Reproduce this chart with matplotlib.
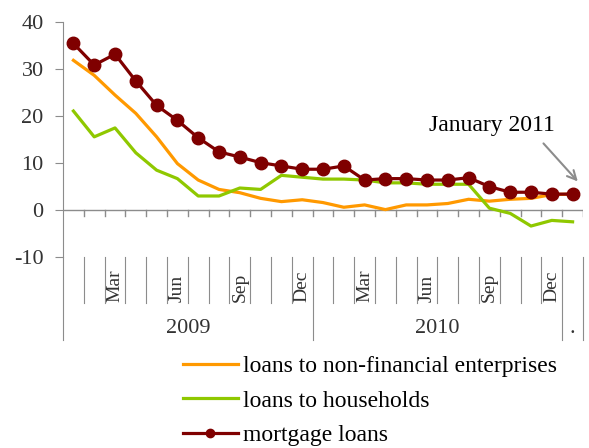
import matplotlib
matplotlib.use("Agg")
import matplotlib.pyplot as plt
from matplotlib.lines import Line2D

plt.rcParams["font.family"] = ["Liberation Serif", "DejaVu Serif"]
plt.rcParams["axes.unicode_minus"] = False

# monthly growth rates, Jan 2009 .. Jan 2011 (%)
enterprises = [31.9, 28.7, 24.5, 20.6, 15.6, 9.9, 6.4, 4.4, 3.7, 2.5, 1.8, 2.2,
               1.6, 0.6, 1.1, 0.1, 1.1, 1.1, 1.4, 2.3, 1.9, 2.3, 2.5, 3.3, 3.4]
households = [21.1, 15.6, 17.5, 12.2, 8.5, 6.7, 3.0, 3.0, 4.7, 4.4, 7.4, 7.0,
              6.6, 6.6, 6.4, 5.8, 5.8, 5.5, 5.5, 5.5, 0.4, -0.7, -3.4, -2.2, -2.5]
mortgage = [35.5, 30.9, 33.2, 27.5, 22.3, 19.1, 15.4, 12.4, 11.3, 10.1, 9.4, 8.7,
            8.7, 9.4, 6.4, 6.7, 6.7, 6.4, 6.4, 6.9, 5.0, 3.8, 3.8, 3.4, 3.4]

month_labels = {2: "Mar", 5: "Jun", 8: "Sep", 11: "Dec",
                14: "Mar", 17: "Jun", 20: "Sep", 23: "Dec"}
year_labels = [(5.5, "2009"), (17.5, "2010"), (24, ".")]
year_edges = [-0.5, 11.5, 23.5, 24.5]

ORANGE = "#FF9900"
GREEN = "#8FC800"
DARKRED = "#7F0000"
GRID = "#8C8C8C"
TXT = "#333333"

fig = plt.figure(figsize=(5.89, 4.48), dpi=100)
ax = fig.add_axes([0.107, 0.4263, 0.8828, 0.5239])

x = list(range(len(mortgage)))
ax.plot(x, enterprises, color=ORANGE, lw=2.3, solid_joinstyle="round")
ax.plot(x, households, color=GREEN, lw=2.3, solid_joinstyle="round")
ax.plot(x, mortgage, color=DARKRED, lw=2.3, marker="o", ms=9)

ax.set_xlim(-0.5, 24.5)
ax.set_ylim(-10, 40)
ax.set_yticks([-10, 0, 10, 20, 30, 40])
ax.tick_params(axis="y", direction="out", length=6, color=GRID,
               labelsize=16, labelcolor=TXT, pad=8)
ax.set_xticks([])
for side in ("top", "right", "bottom"):
    ax.spines[side].set_visible(False)
ax.spines["left"].set_color(GRID)

# zero line with month ticks hanging below it
ax.axhline(0, color=GRID, lw=1, zorder=0)
for b in range(25):
    ax.plot([b + 0.5, b + 0.5], [0, -1.3], color=GRID, lw=1, zorder=0)

# category axis drawn under the plot area
for b in range(24):
    edge = b + 0.5
    if edge in year_edges:
        continue
    ax.plot([edge, edge], [-10, -19.8], color=GRID, lw=0.8, clip_on=False)
for edge in year_edges:
    ax.plot([edge, edge], [-10, -27.7], color=GRID, lw=0.8, clip_on=False)
for pos, lab in month_labels.items():
    ax.text(pos, -19.6, lab, rotation=90, ha="center", va="bottom",
            fontsize=14, color=TXT)
for pos, lab in year_labels:
    ax.text(pos, -25.2, lab, ha="center", va="center", fontsize=16, color=TXT)

ax.text(20.1, 18.0, "January 2011", fontsize=17, color="black",
        ha="center", va="center")
ax.annotate("", xy=(24.25, 6.1), xytext=(22.6, 14.2),
            arrowprops=dict(arrowstyle="->", color="#8C8C8C", lw=1.5,
                            mutation_scale=16, shrinkA=0, shrinkB=0))

handles = [Line2D([], [], color=ORANGE, lw=2.3),
           Line2D([], [], color=GREEN, lw=2.3),
           Line2D([], [], color=DARKRED, lw=2.3, marker="o", ms=6)]
labels = ["loans to non-financial enterprises", "loans to households",
          "mortgage loans"]
fig.legend(handles, labels, loc="upper left", bbox_to_anchor=(0.31, 0.206),
           frameon=False, fontsize=17, handlelength=2.33, handletextpad=0.21,
           labelspacing=0.55, borderpad=0, borderaxespad=0)

fig.savefig("out.png", dpi=100)
